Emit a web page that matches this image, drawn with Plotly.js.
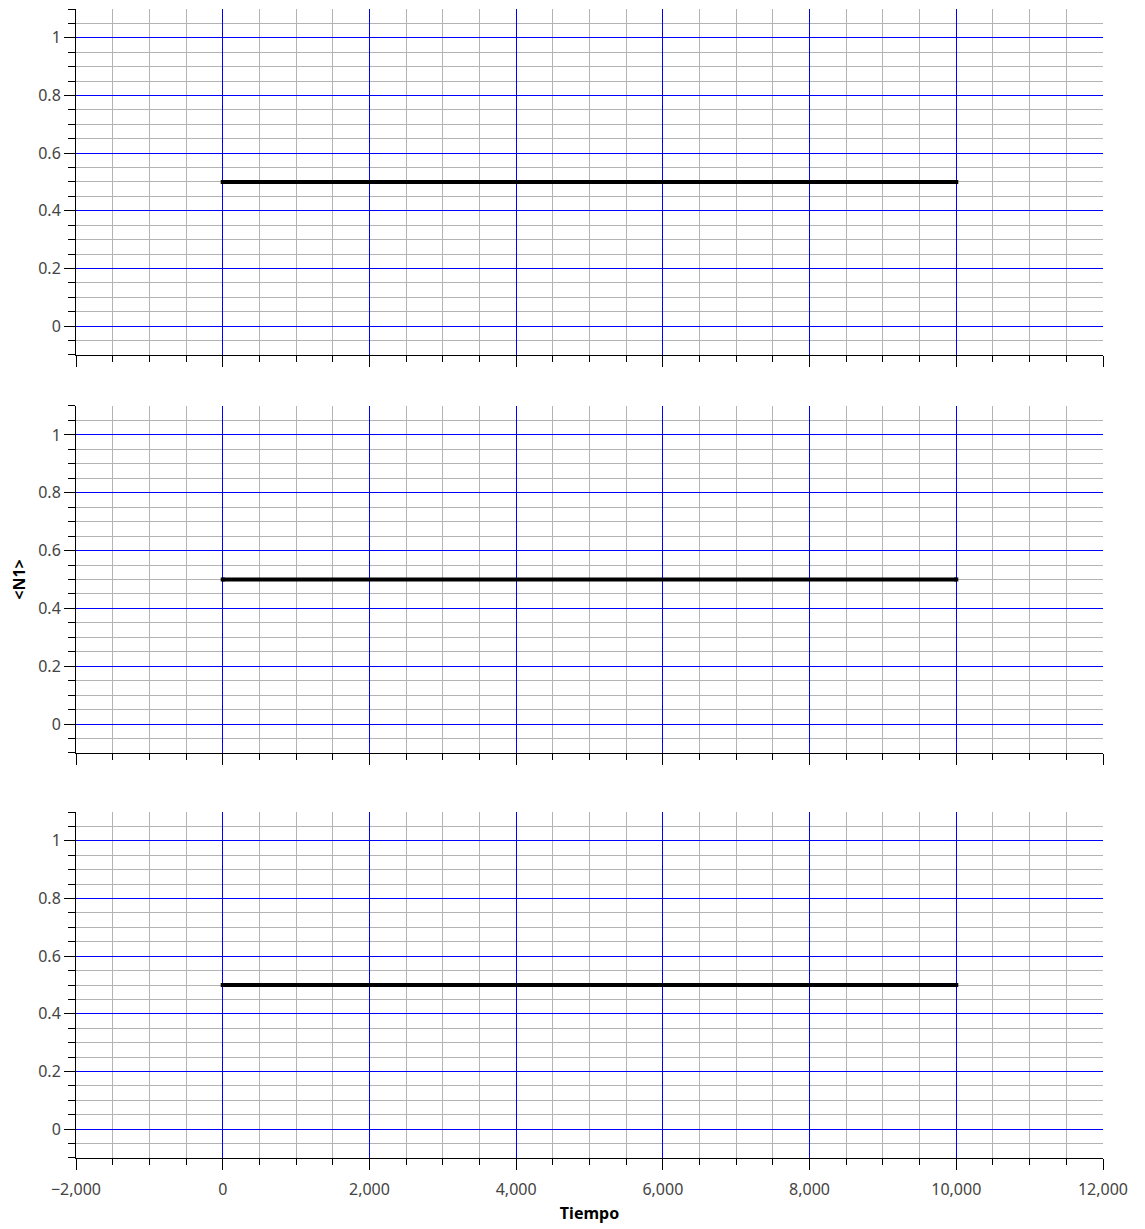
<!DOCTYPE html>
<html>
<head>
<meta charset="utf-8">
<script src="https://cdn.plot.ly/plotly-3.0.1.min.js"></script>
<style>
  html, body { margin: 0; padding: 0; background: #fff; }
  #chart { width: 1145px; height: 1229px; }
</style>
</head>
<body>
<div id="chart"></div>
<script>
// Time samples and the mean occupation <N1> for each of the three panels
const tiempo = [0, 10000];
const n1Panel1 = [0.5, 0.5];
const n1Panel2 = [0.5, 0.5];
const n1Panel3 = [0.5, 0.5];

const xTickValues = [-2000, 0, 2000, 4000, 6000, 8000, 10000, 12000];
const yTickValues = [0, 0.2, 0.4, 0.6, 0.8, 1];

const fontFamily = '"Noto Sans", "Open Sans", sans-serif';

function panel(y, xa, ya) {
  return {
    x: tiempo, y: y, xaxis: xa, yaxis: ya,
    type: 'scatter', mode: 'lines+markers',
    line: { color: '#000000', width: 4 },
    marker: { color: '#000000', size: 4, symbol: 'square' },
    showlegend: false, hoverinfo: 'x+y'
  };
}

function xAxis(showLabels, anchor) {
  return {
    anchor: anchor,
    range: [-2000, 12000],
    tickvals: xTickValues,
    tickformat: ',d',
    showticklabels: showLabels,
    ticklabelstandoff: 6,
    ticks: 'outside', ticklen: 11, tickcolor: '#000', tickwidth: 1,
    showline: true, linecolor: '#000', linewidth: 1,
    showgrid: true, gridcolor: '#0000ff', gridwidth: 1,
    zeroline: false,
    minor: {
      dtick: 500, tick0: 0,
      ticks: 'outside', ticklen: 6, tickcolor: '#000',
      showgrid: true, gridcolor: '#b3b3b3', gridwidth: 1
    },
    tickfont: { family: fontFamily, size: 16, color: '#444' },
    matches: anchor === 'y' ? undefined : 'x'
  };
}

function yAxis(anchor, domain) {
  return {
    anchor: anchor,
    domain: domain,
    range: [-0.1, 1.1],
    tickvals: yTickValues,
    ticks: 'outside', ticklen: 11, tickcolor: '#000', tickwidth: 1,
    showline: true, linecolor: '#000', linewidth: 1,
    showgrid: true, gridcolor: '#0000ff', gridwidth: 1,
    zeroline: false,
    minor: {
      dtick: 0.05, tick0: 0,
      ticks: 'outside', ticklen: 7, tickcolor: '#000',
      showgrid: true, gridcolor: '#b3b3b3', gridwidth: 1
    },
    tickfont: { family: fontFamily, size: 16, color: '#444' }
  };
}

const data = [
  panel(n1Panel1, 'x', 'y'),
  panel(n1Panel2, 'x2', 'y2'),
  panel(n1Panel3, 'x3', 'y3')
];

const x1 = xAxis(false, 'y');
const x2 = xAxis(false, 'y2');
const x3 = xAxis(true, 'y3');
x3.title = { text: 'Tiempo', font: { family: fontFamily, size: 16, color: '#000', weight: 'bold' }, standoff: 8 };

const y1 = yAxis('x', [0.6989, 1]);
const y2 = yAxis('x2', [0.3525, 0.6545]);
const y3 = yAxis('x3', [0, 0.3011]);
y2.title = { text: '&lt;N1&gt;', font: { family: fontFamily, size: 16, color: '#000', weight: 'bold' }, standoff: 8 };

const layout = {
  width: 1145, height: 1229,
  margin: { l: 76, r: 42, t: 9, b: 71 },
  paper_bgcolor: '#ffffff', plot_bgcolor: '#ffffff',
  font: { family: fontFamily, size: 16, color: '#444' },
  xaxis: x1, yaxis: y1,
  xaxis2: x2, yaxis2: y2,
  xaxis3: x3, yaxis3: y3
};

Plotly.newPlot('chart', data, layout, { displayModeBar: false, responsive: false });
</script>
</body>
</html>
